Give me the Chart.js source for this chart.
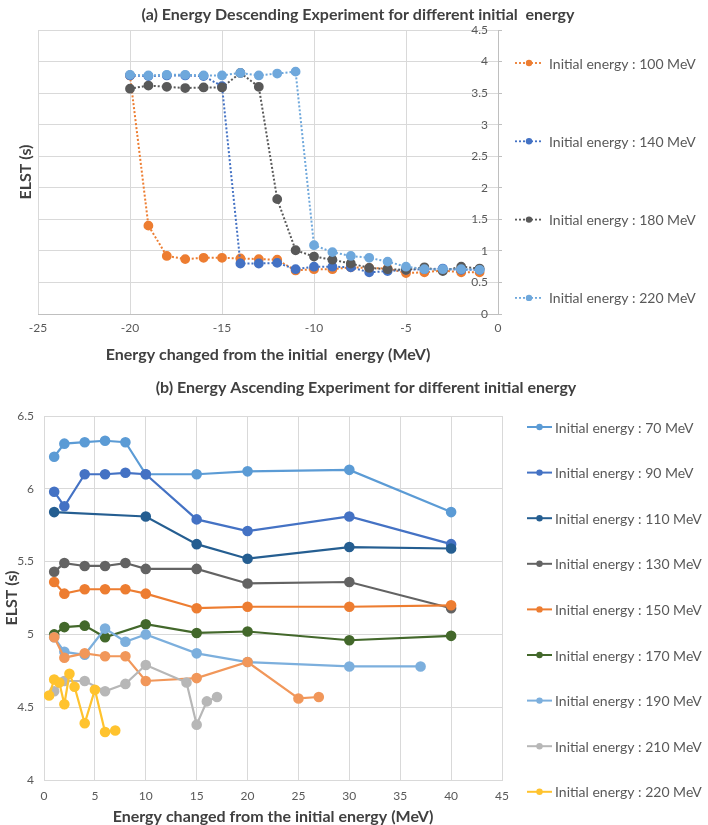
<!DOCTYPE html>
<html><head><meta charset="utf-8">
<script src="https://cdn.jsdelivr.net/npm/chart.js@4.4.1/dist/chart.umd.min.js"></script>
<style>
html,body{margin:0;padding:0;background:#fff;}
#wrap{position:relative;width:708px;height:825px;overflow:hidden;background:#fff}
canvas{position:absolute;left:0}
</style></head><body>
<div id="wrap">
<canvas id="chartA" width="708" height="370" style="top:0;width:708px;height:370px"></canvas>
<canvas id="chartB" width="708" height="455" style="top:370px;width:708px;height:455px"></canvas>
</div>
<script>
// ---------- (a) Energy descending ----------
const descX = [-20,-19,-18,-17,-16,-15,-14,-13,-12,-11,-10,-9,-8,-7,-6,-5,-4,-3,-2,-1];
const desc100 = [3.78,1.40,0.92,0.87,0.89,0.89,0.88,0.87,0.86,0.69,0.71,0.71,0.74,0.73,0.72,0.65,0.66,0.69,0.66,0.66];
const desc140 = [3.78,3.77,3.78,3.78,3.77,3.61,0.80,0.80,0.81,0.71,0.75,0.75,0.74,0.66,0.68,0.70,0.71,0.72,0.70,0.70];
const desc180 = [3.57,3.62,3.60,3.58,3.59,3.59,3.82,3.60,1.82,1.01,0.91,0.86,0.80,0.73,0.71,0.70,0.74,0.68,0.75,0.72];
const desc220 = [3.79,3.78,3.79,3.79,3.78,3.78,3.82,3.78,3.81,3.84,1.09,0.98,0.92,0.89,0.83,0.75,0.71,0.71,0.71,0.70];
const descLabels = ['Initial energy : 100 MeV','Initial energy : 140 MeV','Initial energy : 180 MeV','Initial energy : 220 MeV'];
const descXTicks = [-25,-20,-15,-10,-5,0];
const descYTicks = [0,0.5,1,1.5,2,2.5,3,3.5,4,4.5];

// ---------- (b) Energy ascending ----------
const asc70x  = [1,2,4,6,8,10,15,20,30,40];
const asc70   = [6.22,6.31,6.32,6.33,6.32,6.10,6.10,6.12,6.13,5.84];
const asc90x  = [1,2,4,6,8,10,15,20,30,40];
const asc90   = [5.98,5.88,6.10,6.10,6.11,6.10,5.79,5.71,5.81,5.62];
const asc110x = [1,10,15,20,30,40];
const asc110  = [5.84,5.81,5.62,5.52,5.60,5.59];
const asc130x = [1,2,4,6,8,10,15,20,30,40];
const asc130  = [5.43,5.49,5.47,5.47,5.49,5.45,5.45,5.35,5.36,5.18];
const asc150x = [1,2,4,6,8,10,15,20,30,40];
const asc150  = [5.36,5.28,5.31,5.31,5.31,5.28,5.18,5.19,5.19,5.20];
const asc170x = [1,2,4,6,10,15,20,30,40];
const asc170  = [5.00,5.05,5.06,4.98,5.07,5.01,5.02,4.96,4.99];
const asc190x = [1,2,4,6,8,10,15,20,30,37];
const asc190  = [4.98,4.88,4.86,5.04,4.95,5.00,4.87,4.81,4.78,4.78];
const ascExtraX = [1,2,4,6,8,10,15,20,25,27];
const ascExtra  = [4.98,4.84,4.87,4.85,4.85,4.68,4.70,4.81,4.56,4.57];
const asc210x = [1,2,4,6,8,10,14,15,16,17];
const asc210  = [4.61,4.68,4.68,4.61,4.66,4.79,4.67,4.38,4.54,4.57];
const asc220x = [0.5,1,1.5,2,2.5,3,4,5,6,7];
const asc220  = [4.58,4.69,4.67,4.52,4.73,4.64,4.39,4.62,4.33,4.34];
const ascLabels = ['Initial energy : 70 MeV','Initial energy : 90 MeV','Initial energy : 110 MeV','Initial energy : 130 MeV','Initial energy : 150 MeV','Initial energy : 170 MeV','Initial energy : 190 MeV','Initial energy : 210 MeV','Initial energy : 220 MeV'];
const ascXTicks = [0,5,10,15,20,25,30,35,40,45];
const ascYTicks = [4,4.5,5,5.5,6,6.5];

const FONT = 'Lato, "Open Sans", "DejaVu Sans", sans-serif';
Chart.defaults.font.family = FONT;
Chart.defaults.color = '#595959';

const pts = (xs, ys) => xs.map((x, i) => ({x: x, y: ys[i]}));

// decoration plugin: chart title + legend
const decor = {
  id: 'decor',
  afterDraw(chart, args, o) {
    const ctx = chart.ctx;
    ctx.save();
    ctx.fillStyle = o.titleColor;
    ctx.font = o.titleFont;
    ctx.textAlign = 'center';
    ctx.textBaseline = 'middle';
    ctx.fillText(o.title, o.titleX, o.titleY);
    ctx.font = o.legendFont;
    ctx.textAlign = 'left';
    let k = 0;
    chart.data.datasets.forEach((ds) => {
      if (ds.hideLegend) return;
      const y = o.legendY + k * o.legendStep;
      ctx.strokeStyle = ds.borderColor;
      ctx.lineWidth = o.legendLineWidth;
      ctx.setLineDash(ds.borderDash || []);
      ctx.beginPath();
      ctx.moveTo(o.legendX, y);
      ctx.lineTo(o.legendX + o.legendLen, y);
      ctx.stroke();
      ctx.setLineDash([]);
      ctx.fillStyle = ds.pointBackgroundColor;
      ctx.beginPath();
      ctx.arc(o.legendX + o.legendLen / 2, y, o.legendDot, 0, Math.PI * 2);
      ctx.fill();
      ctx.fillStyle = o.legendColor;
      ctx.fillText(ds.label, o.legendX + o.legendLen + o.legendGap, y + 1);
      k++;
    });
    ctx.restore();
  }
};

function dsA(label, ys, color, order) {
  return {label: label, data: pts(descX, ys), borderColor: color, backgroundColor: color,
    pointBackgroundColor: color, pointBorderColor: color, borderWidth: 2, borderDash: [2, 2],
    pointRadius: 3.9, pointHoverRadius: 3.9, tension: 0, order: order};
}

new Chart(document.getElementById('chartA'), {
  type: 'line',
  data: {datasets: [
    dsA(descLabels[0], desc100, '#ED7D31', 4),
    dsA(descLabels[1], desc140, '#4472C4', 3),
    dsA(descLabels[2], desc180, '#595959', 2),
    dsA(descLabels[3], desc220, '#6FA8DC', 1)
  ]},
  options: {
    responsive: false, animation: false,
    layout: {padding: {left: 0, right: 210, top: 30, bottom: 7}},
    plugins: {
      legend: {display: false}, tooltip: {enabled: false},
      decor: {title: '(a) Energy Descending Experiment for different initial  energy', titleX: 358, titleY: 15,
        titleFont: 'bold 16px ' + FONT, titleColor: '#404040',
        legendX: 515, legendY: 63, legendStep: 78.3, legendLen: 28, legendGap: 6, legendDot: 3.2,
        legendLineWidth: 1.8, legendFont: '14px ' + FONT, legendColor: '#595959'}
    },
    scales: {
      x: {type: 'linear', position: 'bottom', min: -25, max: 0,
        afterBuildTicks: s => { s.ticks = descXTicks.map(v => ({value: v})); },
        ticks: {font: {size: 12}, color: '#595959', padding: 7, maxRotation: 0, autoSkip: false, callback: v => String(v)},
        grid: {color: '#D9D9D9', lineWidth: 1, drawTicks: false},
        border: {color: '#BFBFBF', width: 1},
        title: {display: true, text: 'Energy changed from the initial  energy (MeV)', color: '#404040',
          font: {size: 16, weight: 'bold', lineHeight: 1}, padding: 0},
        afterFit: s => { s.height = 49; }
      },
      y: {type: 'linear', position: 'right', min: 0, max: 4.5,
        afterBuildTicks: s => { s.ticks = descYTicks.map(v => ({value: v})); },
        ticks: {mirror: true, font: {size: 12}, color: '#595959', padding: -10, callback: v => String(v)},
        grid: {color: '#D9D9D9', lineWidth: 1, drawTicks: true, tickLength: 4, tickColor: '#BFBFBF'},
        border: {color: '#BFBFBF', width: 1},
        afterFit: s => { s.width = 0; }
      },
      yTitle: {type: 'linear', axis: 'y', position: 'left', min: 0, max: 4.5,
        ticks: {display: false}, grid: {display: false}, border: {display: false},
        title: {display: true, text: 'ELST (s)', color: '#404040', font: {size: 16, weight: 'bold', lineHeight: 1}, padding: {top: 18, bottom: 0}},
        afterFit: s => { s.width = 38; }
      }
    }
  },
  plugins: [decor]
});

function dsB(label, xs, ys, color, order, hide) {
  return {label: label, data: pts(xs, ys), borderColor: color, backgroundColor: color,
    pointBackgroundColor: color, pointBorderColor: color, borderWidth: 2.2,
    pointRadius: 4.2, pointHoverRadius: 4.2, tension: 0, order: order, hideLegend: !!hide};
}

new Chart(document.getElementById('chartB'), {
  type: 'line',
  data: {datasets: [
    dsB(ascLabels[0], asc70x, asc70, '#5B9BD5', 10),
    dsB(ascLabels[1], asc90x, asc90, '#4472C4', 9),
    dsB(ascLabels[2], asc110x, asc110, '#255E91', 8),
    dsB(ascLabels[3], asc130x, asc130, '#636363', 7),
    dsB(ascLabels[4], asc150x, asc150, '#ED7D31', 6),
    dsB(ascLabels[5], asc170x, asc170, '#43682B', 5),
    dsB(ascLabels[6], asc190x, asc190, '#7CAFDD', 4),
    dsB('Initial energy : 200 MeV', ascExtraX, ascExtra, '#F1975A', 3, true),
    dsB(ascLabels[7], asc210x, asc210, '#B7B7B7', 2),
    dsB(ascLabels[8], asc220x, asc220, '#FFC32E', 1)
  ]},
  options: {
    responsive: false, animation: false,
    layout: {padding: {left: 0, right: 206, top: 46, bottom: 0}},
    plugins: {
      legend: {display: false}, tooltip: {enabled: false},
      decor: {title: '(b) Energy Ascending Experiment for different initial energy', titleX: 366, titleY: 18,
        titleFont: 'bold 16px ' + FONT, titleColor: '#404040',
        legendX: 527, legendY: 57, legendStep: 45.6, legendLen: 25, legendGap: 3, legendDot: 3.2,
        legendLineWidth: 2, legendFont: '14px ' + FONT, legendColor: '#595959'}
    },
    scales: {
      x: {type: 'linear', position: 'bottom', min: 0, max: 45,
        afterBuildTicks: s => { s.ticks = ascXTicks.map(v => ({value: v})); },
        ticks: {font: {size: 12}, color: '#595959', padding: 9, maxRotation: 0, autoSkip: false, callback: v => String(v)},
        grid: {color: '#D9D9D9', lineWidth: 1, drawTicks: false},
        border: {color: '#D9D9D9', width: 1},
        title: {display: true, text: 'Energy changed from the initial energy (MeV)', color: '#404040',
          font: {size: 16, weight: 'bold', lineHeight: 1}, padding: 0},
        afterFit: s => { s.height = 45; }
      },
      y: {type: 'linear', position: 'left', min: 4, max: 6.5,
        afterBuildTicks: s => { s.ticks = ascYTicks.map(v => ({value: v})); },
        ticks: {font: {size: 12}, color: '#595959', padding: 10, callback: v => String(v)},
        grid: {color: '#D9D9D9', lineWidth: 1, drawTicks: false},
        border: {color: '#D9D9D9', width: 1},
        title: {display: true, text: 'ELST (s)', color: '#404040', font: {size: 16, weight: 'bold', lineHeight: 1}, padding: {top: 4, bottom: 0}},
        afterFit: s => { s.width = 44; }
      }
    }
  },
  plugins: [decor]
});
</script>
</body></html>
